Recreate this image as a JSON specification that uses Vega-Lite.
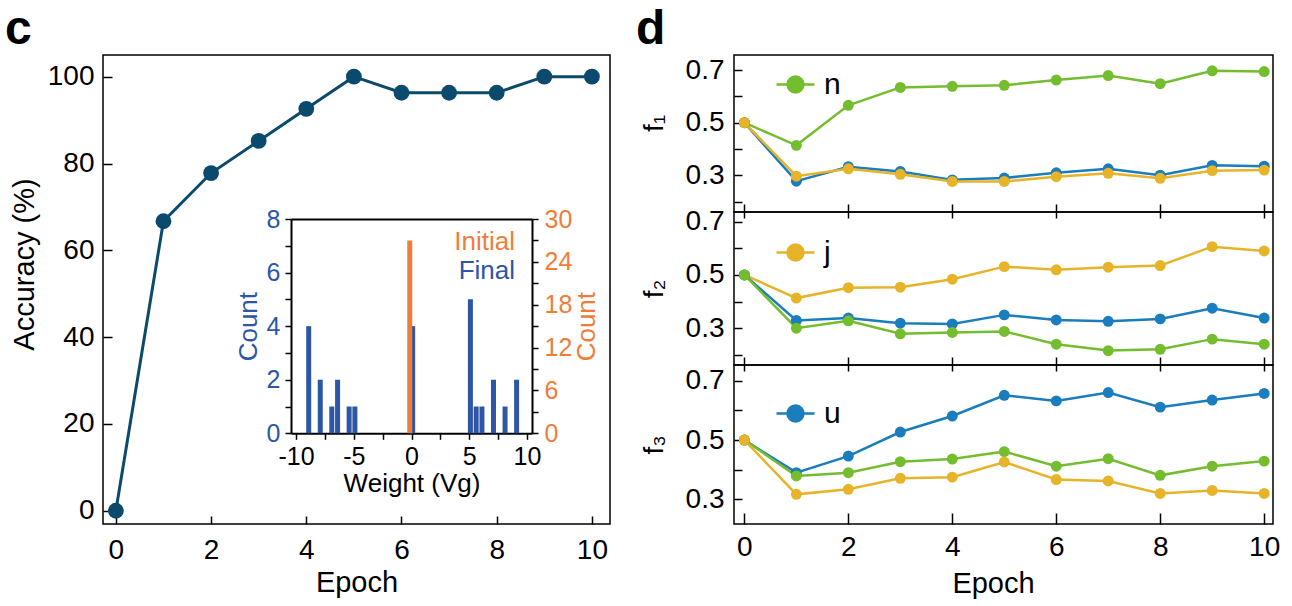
{
  "$schema": "https://vega.github.io/schema/vega-lite/v6.json",
  "autosize": {"type": "pad"},
  "padding": {"left": 4, "top": 5, "right": 0, "bottom": 0},
  "background": "white",
  "config": {
    "view": {"stroke": "black", "strokeWidth": 1.5},
    "font": "Liberation Sans",
    "axis": {"grid": false, "domain": false, "tickColor": "black", "tickWidth": 1.5, "labelColor": "black", "titleColor": "black", "labelFont": "Liberation Sans", "titleFont": "Liberation Sans", "titleFontWeight": "normal", "labelFlush": false, "labelOverlap": false, "labelBound": false},
    "legend": {"padding": 0, "labelFont": "Liberation Sans", "labelColor": "black"},
    "title": {"font": "Liberation Sans", "color": "black"}
  },
  "datasets": {
    "acc": [
      {"epoch": 0, "accuracy": 0}, {"epoch": 1, "accuracy": 66.7}, {"epoch": 2, "accuracy": 77.8},
      {"epoch": 3, "accuracy": 85.2}, {"epoch": 4, "accuracy": 92.6}, {"epoch": 5, "accuracy": 100},
      {"epoch": 6, "accuracy": 96.3}, {"epoch": 7, "accuracy": 96.3}, {"epoch": 8, "accuracy": 96.3},
      {"epoch": 9, "accuracy": 100}, {"epoch": 10, "accuracy": 100}
    ],
    "hist": [
      {"state": "Initial", "weight": -0.15, "count": 27},
      {"state": "Final", "weight": -8.9, "count": 4},
      {"state": "Final", "weight": -7.9, "count": 2},
      {"state": "Final", "weight": -6.9, "count": 1},
      {"state": "Final", "weight": -6.4, "count": 2},
      {"state": "Final", "weight": -5.4, "count": 1},
      {"state": "Final", "weight": -4.9, "count": 1},
      {"state": "Final", "weight": 0.1, "count": 4},
      {"state": "Final", "weight": 5.1, "count": 5},
      {"state": "Final", "weight": 5.6, "count": 1},
      {"state": "Final", "weight": 6.1, "count": 1},
      {"state": "Final", "weight": 7.1, "count": 2},
      {"state": "Final", "weight": 8.1, "count": 1},
      {"state": "Final", "weight": 9.1, "count": 2}
    ],
    "f": [
      {"panel": "f1", "series": "n", "epoch": 0, "value": 0.5}, {"panel": "f1", "series": "n", "epoch": 1, "value": 0.414}, {"panel": "f1", "series": "n", "epoch": 2, "value": 0.566}, {"panel": "f1", "series": "n", "epoch": 3, "value": 0.634}, {"panel": "f1", "series": "n", "epoch": 4, "value": 0.638}, {"panel": "f1", "series": "n", "epoch": 5, "value": 0.642}, {"panel": "f1", "series": "n", "epoch": 6, "value": 0.662}, {"panel": "f1", "series": "n", "epoch": 7, "value": 0.679}, {"panel": "f1", "series": "n", "epoch": 8, "value": 0.648}, {"panel": "f1", "series": "n", "epoch": 9, "value": 0.697}, {"panel": "f1", "series": "n", "epoch": 10, "value": 0.694},
      {"panel": "f1", "series": "u", "epoch": 0, "value": 0.5}, {"panel": "f1", "series": "u", "epoch": 1, "value": 0.278}, {"panel": "f1", "series": "u", "epoch": 2, "value": 0.333}, {"panel": "f1", "series": "u", "epoch": 3, "value": 0.315}, {"panel": "f1", "series": "u", "epoch": 4, "value": 0.283}, {"panel": "f1", "series": "u", "epoch": 5, "value": 0.29}, {"panel": "f1", "series": "u", "epoch": 6, "value": 0.31}, {"panel": "f1", "series": "u", "epoch": 7, "value": 0.325}, {"panel": "f1", "series": "u", "epoch": 8, "value": 0.301}, {"panel": "f1", "series": "u", "epoch": 9, "value": 0.338}, {"panel": "f1", "series": "u", "epoch": 10, "value": 0.335},
      {"panel": "f1", "series": "j", "epoch": 0, "value": 0.5}, {"panel": "f1", "series": "j", "epoch": 1, "value": 0.297}, {"panel": "f1", "series": "j", "epoch": 2, "value": 0.325}, {"panel": "f1", "series": "j", "epoch": 3, "value": 0.304}, {"panel": "f1", "series": "j", "epoch": 4, "value": 0.277}, {"panel": "f1", "series": "j", "epoch": 5, "value": 0.277}, {"panel": "f1", "series": "j", "epoch": 6, "value": 0.295}, {"panel": "f1", "series": "j", "epoch": 7, "value": 0.308}, {"panel": "f1", "series": "j", "epoch": 8, "value": 0.289}, {"panel": "f1", "series": "j", "epoch": 9, "value": 0.318}, {"panel": "f1", "series": "j", "epoch": 10, "value": 0.32},
      {"panel": "f2", "series": "j", "epoch": 0, "value": 0.5}, {"panel": "f2", "series": "j", "epoch": 1, "value": 0.413}, {"panel": "f2", "series": "j", "epoch": 2, "value": 0.452}, {"panel": "f2", "series": "j", "epoch": 3, "value": 0.454}, {"panel": "f2", "series": "j", "epoch": 4, "value": 0.484}, {"panel": "f2", "series": "j", "epoch": 5, "value": 0.531}, {"panel": "f2", "series": "j", "epoch": 6, "value": 0.519}, {"panel": "f2", "series": "j", "epoch": 7, "value": 0.529}, {"panel": "f2", "series": "j", "epoch": 8, "value": 0.535}, {"panel": "f2", "series": "j", "epoch": 9, "value": 0.606}, {"panel": "f2", "series": "j", "epoch": 10, "value": 0.59},
      {"panel": "f2", "series": "u", "epoch": 0, "value": 0.5}, {"panel": "f2", "series": "u", "epoch": 1, "value": 0.329}, {"panel": "f2", "series": "u", "epoch": 2, "value": 0.338}, {"panel": "f2", "series": "u", "epoch": 3, "value": 0.319}, {"panel": "f2", "series": "u", "epoch": 4, "value": 0.316}, {"panel": "f2", "series": "u", "epoch": 5, "value": 0.35}, {"panel": "f2", "series": "u", "epoch": 6, "value": 0.331}, {"panel": "f2", "series": "u", "epoch": 7, "value": 0.326}, {"panel": "f2", "series": "u", "epoch": 8, "value": 0.335}, {"panel": "f2", "series": "u", "epoch": 9, "value": 0.375}, {"panel": "f2", "series": "u", "epoch": 10, "value": 0.338},
      {"panel": "f2", "series": "n", "epoch": 0, "value": 0.5}, {"panel": "f2", "series": "n", "epoch": 1, "value": 0.3}, {"panel": "f2", "series": "n", "epoch": 2, "value": 0.328}, {"panel": "f2", "series": "n", "epoch": 3, "value": 0.279}, {"panel": "f2", "series": "n", "epoch": 4, "value": 0.284}, {"panel": "f2", "series": "n", "epoch": 5, "value": 0.288}, {"panel": "f2", "series": "n", "epoch": 6, "value": 0.24}, {"panel": "f2", "series": "n", "epoch": 7, "value": 0.216}, {"panel": "f2", "series": "n", "epoch": 8, "value": 0.221}, {"panel": "f2", "series": "n", "epoch": 9, "value": 0.259}, {"panel": "f2", "series": "n", "epoch": 10, "value": 0.24},
      {"panel": "f3", "series": "u", "epoch": 0, "value": 0.5}, {"panel": "f3", "series": "u", "epoch": 1, "value": 0.39}, {"panel": "f3", "series": "u", "epoch": 2, "value": 0.446}, {"panel": "f3", "series": "u", "epoch": 3, "value": 0.527}, {"panel": "f3", "series": "u", "epoch": 4, "value": 0.581}, {"panel": "f3", "series": "u", "epoch": 5, "value": 0.651}, {"panel": "f3", "series": "u", "epoch": 6, "value": 0.632}, {"panel": "f3", "series": "u", "epoch": 7, "value": 0.66}, {"panel": "f3", "series": "u", "epoch": 8, "value": 0.611}, {"panel": "f3", "series": "u", "epoch": 9, "value": 0.635}, {"panel": "f3", "series": "u", "epoch": 10, "value": 0.657},
      {"panel": "f3", "series": "n", "epoch": 0, "value": 0.5}, {"panel": "f3", "series": "n", "epoch": 1, "value": 0.379}, {"panel": "f3", "series": "n", "epoch": 2, "value": 0.39}, {"panel": "f3", "series": "n", "epoch": 3, "value": 0.427}, {"panel": "f3", "series": "n", "epoch": 4, "value": 0.436}, {"panel": "f3", "series": "n", "epoch": 5, "value": 0.461}, {"panel": "f3", "series": "n", "epoch": 6, "value": 0.412}, {"panel": "f3", "series": "n", "epoch": 7, "value": 0.437}, {"panel": "f3", "series": "n", "epoch": 8, "value": 0.381}, {"panel": "f3", "series": "n", "epoch": 9, "value": 0.412}, {"panel": "f3", "series": "n", "epoch": 10, "value": 0.429},
      {"panel": "f3", "series": "j", "epoch": 0, "value": 0.5}, {"panel": "f3", "series": "j", "epoch": 1, "value": 0.317}, {"panel": "f3", "series": "j", "epoch": 2, "value": 0.334}, {"panel": "f3", "series": "j", "epoch": 3, "value": 0.371}, {"panel": "f3", "series": "j", "epoch": 4, "value": 0.375}, {"panel": "f3", "series": "j", "epoch": 5, "value": 0.426}, {"panel": "f3", "series": "j", "epoch": 6, "value": 0.367}, {"panel": "f3", "series": "j", "epoch": 7, "value": 0.362}, {"panel": "f3", "series": "j", "epoch": 8, "value": 0.32}, {"panel": "f3", "series": "j", "epoch": 9, "value": 0.33}, {"panel": "f3", "series": "j", "epoch": 10, "value": 0.32}
    ]
  },
  "spacing": 124,
  "bounds": "flush",
  "resolve": {"scale": {"color": "independent"}, "legend": {"color": "independent"}},
  "hconcat": [
    {
      "width": 507,
      "height": 469,
      "title": {"text": "c", "anchor": "start", "frame": "group", "fontSize": 48, "fontWeight": "bold", "dx": -98, "offset": -37, "baseline": "alphabetic"},
      "layer": [
        {
          "data": {"name": "acc"},
          "mark": {"type": "line", "color": "#0b4a6d", "strokeWidth": 3},
          "encoding": {
            "x": {"field": "epoch", "type": "quantitative", "scale": {"domain": [-0.27, 10.38], "nice": false, "zero": false},
                  "axis": {"orient": "bottom", "values": [0, 2, 4, 6, 8, 10], "tickSize": -8, "labelPadding": 20.5, "labelFontSize": 28, "title": "Epoch", "titleFontSize": 29, "titlePadding": 4}},
            "y": {"field": "accuracy", "type": "quantitative", "scale": {"domain": [-3.06, 105], "nice": false, "zero": false},
                  "axis": {"orient": "left", "values": [0, 20, 40, 60, 80, 100], "tickSize": -9, "labelPadding": 18, "labelFontSize": 28, "title": "Accuracy (%)", "titleFontSize": 29, "titlePadding": 8, "titleY": 209}}
          }
        },
        {
          "data": {"name": "acc"},
          "mark": {"type": "point", "filled": true, "size": 250, "color": "#0b4a6d", "opacity": 1},
          "encoding": {
            "x": {"field": "epoch", "type": "quantitative", "scale": {"domain": [-0.27, 10.38], "nice": false, "zero": false}, "axis": null},
            "y": {"field": "accuracy", "type": "quantitative", "scale": {"domain": [-3.06, 105], "nice": false, "zero": false}, "axis": null}
          }
        },
        {
          "data": {"name": "hist"},
          "transform": [{"filter": "datum.state === 'Final'"}],
          "mark": {"type": "bar", "size": 5, "orient": "vertical"},
          "encoding": {
            "x": {"field": "weight", "type": "quantitative", "scale": {"domain": [-10, 10], "range": [188, 429], "nice": false, "zero": false},
                  "axis": {"orient": "bottom", "offset": -90.7, "values": [-10, -7.5, -5, -2.5, 0, 2.5, 5, 7.5, 10], "labelExpr": "datum.value % 5 === 0 ? replace(datum.label, '\u2212', '-') : ''", "tickSize": 6, "labelPadding": 5, "labelFontSize": 25, "title": "Weight (Vg)", "titleFontSize": 26, "titlePadding": 1, "domain": true, "domainColor": "black", "domainWidth": 2}},
            "y": {"field": "count", "type": "quantitative", "scale": {"domain": [0, 8], "range": [378.3, 164], "nice": false},
                  "axis": {"orient": "left", "offset": -188, "values": [0, 1, 2, 3, 4, 5, 6, 7, 8], "labelExpr": "datum.value % 2 === 0 ? datum.label : ''", "tickSize": 6, "labelPadding": 5, "labelFontSize": 25, "labelColor": "#2d56a6", "title": "Count", "titleColor": "#2d56a6", "titleFontSize": 26, "titlePadding": 5, "domain": true, "domainColor": "black", "domainWidth": 2}},
            "color": {"field": "state", "type": "nominal", "scale": {"domain": ["Initial", "Final"], "range": ["#ef7d39", "#2d56a6"]},
                      "legend": {"orient": "none", "legendX": 386, "legendY": 174, "title": null, "direction": "vertical", "symbolSize": 0, "symbolOpacity": 0, "symbolStrokeWidth": 0, "labelOffset": 0, "labelAlign": "right", "labelFontSize": 26, "rowPadding": 3, "padding": 0,
                                 "encode": {"labels": {"update": {"fill": [{"test": "datum.value === 'Initial'", "value": "#ef7d39"}, {"value": "#2d56a6"}]}}}}}
          }
        },
        {
          "data": {"name": "hist"},
          "transform": [{"filter": "datum.state === 'Initial'"}],
          "mark": {"type": "bar", "size": 5, "orient": "vertical"},
          "encoding": {
            "x": {"field": "weight", "type": "quantitative", "scale": {"domain": [-10, 10], "range": [188, 429], "nice": false, "zero": false},
                  "axis": {"orient": "top", "offset": -164, "ticks": false, "labels": false, "title": null, "domain": true, "domainColor": "black", "domainWidth": 2}},
            "y": {"field": "count", "type": "quantitative", "scale": {"domain": [0, 30], "range": [378.3, 164], "nice": false},
                  "axis": {"orient": "right", "offset": -78, "values": [0, 3, 6, 9, 12, 15, 18, 21, 24, 27, 30], "labelExpr": "datum.value % 6 === 0 ? datum.label : ''", "tickSize": 6, "labelPadding": 6, "labelFontSize": 25, "labelColor": "#ef7d39", "title": "Count", "titleColor": "#ef7d39", "titleFontSize": 26, "titleAngle": 270, "titleBaseline": "top", "titlePadding": 2, "domain": true, "domainColor": "black", "domainWidth": 2}},
            "color": {"field": "state", "type": "nominal", "scale": {"domain": ["Initial", "Final"], "range": ["#ef7d39", "#2d56a6"]},
                      "legend": {"orient": "none", "legendX": 386, "legendY": 174, "title": null, "direction": "vertical", "symbolSize": 0, "symbolOpacity": 0, "symbolStrokeWidth": 0, "labelOffset": 0, "labelAlign": "right", "labelFontSize": 26, "rowPadding": 3, "padding": 0,
                                 "encode": {"labels": {"update": {"fill": [{"test": "datum.value === 'Initial'", "value": "#ef7d39"}, {"value": "#2d56a6"}]}}}}}
          }
        }
      ],
      "resolve": {"scale": {"x": "independent", "y": "independent"}, "axis": {"x": "independent", "y": "independent"}}
    },
    {
      "spacing": 0,
      "bounds": "flush",
      "resolve": {"scale": {"color": "independent"}, "legend": {"color": "independent"}},
      "vconcat": [
        {
          "width": 539,
          "height": 157,
          "title": {"text": "d", "anchor": "start", "frame": "group", "fontSize": 48, "fontWeight": "bold", "dx": -98, "offset": -37, "baseline": "alphabetic"},
          "data": {"name": "f"},
          "transform": [{"filter": "datum.panel === 'f1'"}],
          "layer": [
            {
              "mark": {"type": "line", "strokeWidth": 2.5},
              "encoding": {
                "x": {"field": "epoch", "type": "quantitative", "scale": {"domain": [-0.2, 10.17], "nice": false, "zero": false}, "axis": {"orient": "bottom", "values": [0, 2, 4, 6, 8, 10], "tickSize": -8, "labels": false, "title": null}},
                "y": {"field": "value", "type": "quantitative", "scale": {"domain": [0.161, 0.757], "nice": false, "zero": false}, "axis": {"orient": "left", "values": [0.2, 0.3, 0.4, 0.5, 0.6, 0.7], "labelExpr": "round(datum.value * 10) % 2 === 1 ? datum.label : ''", "tickSize": -8, "labelPadding": 18, "labelFontSize": 28, "title": "f₁", "titleFontSize": 28, "titlePadding": 17, "titleY": 68}},
                "color": {"field": "series", "type": "nominal", "scale": {"domain": ["j", "n", "u"], "range": ["#e6b329", "#73bd2f", "#1a7dbd"]},
                          "legend": {"values": ["n"], "orient": "none", "legendX": 41, "legendY": 9, "title": null, "labelFontSize": 30, "labelOffset": 8, "padding": 0,
                                     "encode": {"symbols": {"update": {"shape": {"value": "M-1,0H1M-0.42,0A0.42,0.42,0,1,1,0.42,0A0.42,0.42,0,1,1,-0.42,0Z"}, "size": {"value": 1444}, "fill": {"value": "#73bd2f"}, "stroke": {"value": "#73bd2f"}, "strokeWidth": {"value": 2.5}, "opacity": {"value": 1}}}}}}
              }
            },
            {
              "mark": {"type": "point", "filled": true, "size": 120, "opacity": 1},
              "encoding": {
                "x": {"field": "epoch", "type": "quantitative", "scale": {"domain": [-0.2, 10.17], "nice": false, "zero": false}, "axis": null},
                "y": {"field": "value", "type": "quantitative", "scale": {"domain": [0.161, 0.757], "nice": false, "zero": false}, "axis": {"orient": "left", "values": [0.2, 0.3, 0.4, 0.5, 0.6, 0.7], "labelExpr": "round(datum.value * 10) % 2 === 1 ? datum.label : ''", "tickSize": -8, "labelPadding": 18, "labelFontSize": 28, "title": "f₁", "titleFontSize": 28, "titlePadding": 17, "titleY": 68}},
                "color": {"field": "series", "type": "nominal", "scale": {"domain": ["j", "n", "u"], "range": ["#e6b329", "#73bd2f", "#1a7dbd"]},
                          "legend": {"values": ["n"], "orient": "none", "legendX": 41, "legendY": 9, "title": null, "labelFontSize": 30, "labelOffset": 8, "padding": 0,
                                     "encode": {"symbols": {"update": {"shape": {"value": "M-1,0H1M-0.42,0A0.42,0.42,0,1,1,0.42,0A0.42,0.42,0,1,1,-0.42,0Z"}, "size": {"value": 1444}, "fill": {"value": "#73bd2f"}, "stroke": {"value": "#73bd2f"}, "strokeWidth": {"value": 2.5}, "opacity": {"value": 1}}}}}}
              }
            }
          ],
          "resolve": {"axis": {"x": "independent"}}
        },
        {
          "width": 539,
          "height": 153,
          "data": {"name": "f"},
          "transform": [{"filter": "datum.panel === 'f2'"}],
          "layer": [
            {
              "mark": {"type": "line", "strokeWidth": 2.5},
              "encoding": {
                "x": {"field": "epoch", "type": "quantitative", "scale": {"domain": [-0.2, 10.17], "nice": false, "zero": false}, "axis": {"orient": "bottom", "values": [0, 2, 4, 6, 8, 10], "tickSize": -8, "labels": false, "title": null}},
                "y": {"field": "value", "type": "quantitative", "scale": {"domain": [0.162, 0.736], "nice": false, "zero": false}, "axis": {"orient": "left", "values": [0.2, 0.3, 0.4, 0.5, 0.6, 0.7], "labelExpr": "round(datum.value * 10) % 2 === 1 ? datum.label : ''", "tickSize": -8, "labelPadding": 18, "labelFontSize": 28, "title": "f₂", "titleFontSize": 28, "titlePadding": 17}},
                "color": {"field": "series", "type": "nominal", "scale": {"domain": ["j", "n", "u"], "range": ["#e6b329", "#73bd2f", "#1a7dbd"]},
                          "legend": {"values": ["j"], "orient": "none", "legendX": 41, "legendY": 20, "title": null, "labelFontSize": 30, "labelOffset": 8, "padding": 0,
                                     "encode": {"symbols": {"update": {"shape": {"value": "M-1,0H1M-0.42,0A0.42,0.42,0,1,1,0.42,0A0.42,0.42,0,1,1,-0.42,0Z"}, "size": {"value": 1444}, "fill": {"value": "#e6b329"}, "stroke": {"value": "#e6b329"}, "strokeWidth": {"value": 2.5}, "opacity": {"value": 1}}}}}}
              }
            },
            {
              "mark": {"type": "point", "filled": true, "size": 120, "opacity": 1},
              "encoding": {
                "x": {"field": "epoch", "type": "quantitative", "scale": {"domain": [-0.2, 10.17], "nice": false, "zero": false}, "axis": {"orient": "top", "values": [0, 2, 4, 6, 8, 10], "tickSize": -6, "labels": false, "title": null}},
                "y": {"field": "value", "type": "quantitative", "scale": {"domain": [0.162, 0.736], "nice": false, "zero": false}, "axis": {"orient": "left", "values": [0.2, 0.3, 0.4, 0.5, 0.6, 0.7], "labelExpr": "round(datum.value * 10) % 2 === 1 ? datum.label : ''", "tickSize": -8, "labelPadding": 18, "labelFontSize": 28, "title": "f₂", "titleFontSize": 28, "titlePadding": 17}},
                "color": {"field": "series", "type": "nominal", "scale": {"domain": ["j", "n", "u"], "range": ["#e6b329", "#73bd2f", "#1a7dbd"]},
                          "legend": {"values": ["j"], "orient": "none", "legendX": 41, "legendY": 20, "title": null, "labelFontSize": 30, "labelOffset": 8, "padding": 0,
                                     "encode": {"symbols": {"update": {"shape": {"value": "M-1,0H1M-0.42,0A0.42,0.42,0,1,1,0.42,0A0.42,0.42,0,1,1,-0.42,0Z"}, "size": {"value": 1444}, "fill": {"value": "#e6b329"}, "stroke": {"value": "#e6b329"}, "strokeWidth": {"value": 2.5}, "opacity": {"value": 1}}}}}}
              }
            }
          ],
          "resolve": {"axis": {"x": "independent"}}
        },
        {
          "width": 539,
          "height": 159,
          "data": {"name": "f"},
          "transform": [{"filter": "datum.panel === 'f3'"}],
          "layer": [
            {
              "mark": {"type": "line", "strokeWidth": 2.5},
              "encoding": {
                "x": {"field": "epoch", "type": "quantitative", "scale": {"domain": [-0.2, 10.17], "nice": false, "zero": false}, "axis": {"orient": "bottom", "values": [0, 2, 4, 6, 8, 10], "tickSize": -11, "labelPadding": 20.7, "labelFontSize": 28, "title": "Epoch", "titleFontSize": 29, "titlePadding": 8, "titleX": 259}},
                "y": {"field": "value", "type": "quantitative", "scale": {"domain": [0.217, 0.753], "nice": false, "zero": false}, "axis": {"orient": "left", "values": [0.3, 0.4, 0.5, 0.6, 0.7], "labelExpr": "round(datum.value * 10) % 2 === 1 ? datum.label : ''", "tickSize": -8, "labelPadding": 18, "labelFontSize": 28, "title": "f₃", "titleFontSize": 28, "titlePadding": 17}},
                "color": {"field": "series", "type": "nominal", "scale": {"domain": ["j", "n", "u"], "range": ["#e6b329", "#73bd2f", "#1a7dbd"]},
                          "legend": {"values": ["u"], "orient": "none", "legendX": 41, "legendY": 28, "title": null, "labelFontSize": 30, "labelOffset": 8, "padding": 0,
                                     "encode": {"symbols": {"update": {"shape": {"value": "M-1,0H1M-0.42,0A0.42,0.42,0,1,1,0.42,0A0.42,0.42,0,1,1,-0.42,0Z"}, "size": {"value": 1444}, "fill": {"value": "#1a7dbd"}, "stroke": {"value": "#1a7dbd"}, "strokeWidth": {"value": 2.5}, "opacity": {"value": 1}}}}}}
              }
            },
            {
              "mark": {"type": "point", "filled": true, "size": 120, "opacity": 1},
              "encoding": {
                "x": {"field": "epoch", "type": "quantitative", "scale": {"domain": [-0.2, 10.17], "nice": false, "zero": false}, "axis": {"orient": "top", "values": [0, 2, 4, 6, 8, 10], "tickSize": -6, "labels": false, "title": null}},
                "y": {"field": "value", "type": "quantitative", "scale": {"domain": [0.217, 0.753], "nice": false, "zero": false}, "axis": {"orient": "left", "values": [0.3, 0.4, 0.5, 0.6, 0.7], "labelExpr": "round(datum.value * 10) % 2 === 1 ? datum.label : ''", "tickSize": -8, "labelPadding": 18, "labelFontSize": 28, "title": "f₃", "titleFontSize": 28, "titlePadding": 17}},
                "color": {"field": "series", "type": "nominal", "scale": {"domain": ["j", "n", "u"], "range": ["#e6b329", "#73bd2f", "#1a7dbd"]},
                          "legend": {"values": ["u"], "orient": "none", "legendX": 41, "legendY": 28, "title": null, "labelFontSize": 30, "labelOffset": 8, "padding": 0,
                                     "encode": {"symbols": {"update": {"shape": {"value": "M-1,0H1M-0.42,0A0.42,0.42,0,1,1,0.42,0A0.42,0.42,0,1,1,-0.42,0Z"}, "size": {"value": 1444}, "fill": {"value": "#1a7dbd"}, "stroke": {"value": "#1a7dbd"}, "strokeWidth": {"value": 2.5}, "opacity": {"value": 1}}}}}}
              }
            }
          ],
          "resolve": {"axis": {"x": "independent"}}
        }
      ]
    }
  ]
}
